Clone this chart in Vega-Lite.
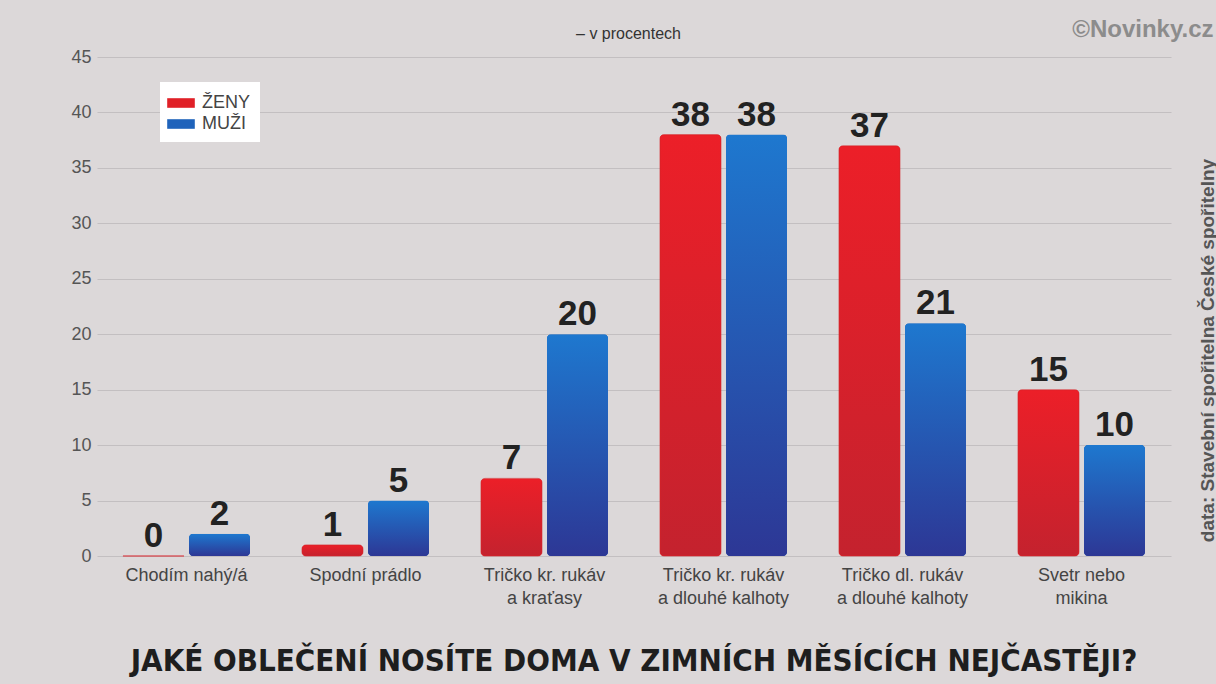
{
  "$schema": "https://vega.github.io/schema/vega-lite/v6.json",
  "width": 1074,
  "height": 499,
  "autosize": {"type": "none"},
  "padding": {"left": 97, "top": 57, "right": 45, "bottom": 128},
  "background": "#dcd8d9",
  "title": {
    "text": "JAKÉ OBLEČENÍ NOSÍTE DOMA V ZIMNÍCH MĚSÍCÍCH NEJČASTĚJI?",
    "orient": "bottom",
    "anchor": "middle",
    "font": "DejaVu Sans Condensed",
    "fontSize": 31,
    "fontWeight": "bold",
    "color": "#1e1e1e",
    "offset": 40
  },
  "data": {
    "values": [
      {"kategorie": "Chodím nahý/á", "pohlavi": "ŽENY", "procenta": 0},
      {"kategorie": "Chodím nahý/á", "pohlavi": "MUŽI", "procenta": 2},
      {"kategorie": "Spodní prádlo", "pohlavi": "ŽENY", "procenta": 1},
      {"kategorie": "Spodní prádlo", "pohlavi": "MUŽI", "procenta": 5},
      {"kategorie": "Tričko kr. rukáv|a kraťasy", "pohlavi": "ŽENY", "procenta": 7},
      {"kategorie": "Tričko kr. rukáv|a kraťasy", "pohlavi": "MUŽI", "procenta": 20},
      {"kategorie": "Tričko kr. rukáv|a dlouhé kalhoty", "pohlavi": "ŽENY", "procenta": 38},
      {"kategorie": "Tričko kr. rukáv|a dlouhé kalhoty", "pohlavi": "MUŽI", "procenta": 38},
      {"kategorie": "Tričko dl. rukáv|a dlouhé kalhoty", "pohlavi": "ŽENY", "procenta": 37},
      {"kategorie": "Tričko dl. rukáv|a dlouhé kalhoty", "pohlavi": "MUŽI", "procenta": 21},
      {"kategorie": "Svetr nebo|mikina", "pohlavi": "ŽENY", "procenta": 15},
      {"kategorie": "Svetr nebo|mikina", "pohlavi": "MUŽI", "procenta": 10}
    ]
  },
  "encoding": {
    "x": {"field": "kategorie", "type": "nominal", "sort": null, "scale": {"paddingInner": 0.29, "paddingOuter": 0.145}},
    "xOffset": {"field": "pohlavi", "type": "nominal", "sort": ["ŽENY", "MUŽI"], "scale": {"paddingInner": 0.076, "paddingOuter": 0}},
    "y": {"field": "procenta", "type": "quantitative", "scale": {"domain": [0, 45], "nice": false}}
  },
  "layer": [
    {
      "mark": {"type": "bar", "cornerRadius": 4},
      "encoding": {
        "x": {
          "field": "kategorie", "type": "nominal", "sort": null,
          "axis": {
            "orient": "bottom", "title": null, "labelAngle": 0, "domain": false, "ticks": false,
            "labelExpr": "split(datum.label, '|')",
            "labelFont": "Liberation Sans", "labelFontSize": 18, "labelColor": "#444444",
            "labelLineHeight": 23, "labelPadding": 10, "labelLimit": 300
          }
        },
        "y": {
          "field": "procenta", "type": "quantitative",
          "axis": {
            "orient": "left", "values": [0, 5, 10, 15, 20, 25, 30, 35, 40, 45],
            "domain": false, "ticks": false, "grid": true, "gridColor": "#c3bfc1", "gridWidth": 1,
            "labelFont": "Liberation Sans", "labelFontSize": 18, "labelColor": "#555555", "labelPadding": 6,
            "title": "– v procentech", "titleAngle": 0, "titleX": 531, "titleY": -24,
            "titleAlign": "center", "titleBaseline": "middle",
            "titleFont": "Liberation Sans", "titleFontSize": 16, "titleFontWeight": "normal", "titleColor": "#333333"
          }
        },
        "color": {
          "field": "pohlavi", "type": "nominal",
          "scale": {"domain": ["ŽENY", "MUŽI"], "range": ["#e02027", "#1f63bb"]},
          "legend": {"title": null}
        }
      }
    },
    {
      "transform": [{"filter": "datum.pohlavi == 'ŽENY'"}],
      "mark": {
        "type": "bar", "cornerRadius": 4, "stroke": "#d8262c", "strokeWidth": 0.6,
        "fill": {"gradient": "linear", "x1": 0, "y1": 0, "x2": 0, "y2": 1,
          "stops": [{"offset": 0, "color": "#ec1f28"}, {"offset": 1, "color": "#c4222e"}]}
      },
      "encoding": {
        "x": {"field": "kategorie", "type": "nominal", "sort": null, "axis": null},
        "y": {"field": "procenta", "type": "quantitative", "axis": null}
      }
    },
    {
      "transform": [{"filter": "datum.pohlavi == 'MUŽI'"}],
      "mark": {
        "type": "bar", "cornerRadius": 4,
        "fill": {"gradient": "linear", "x1": 0, "y1": 0, "x2": 0, "y2": 1,
          "stops": [{"offset": 0, "color": "#1e78cf"}, {"offset": 1, "color": "#2d3795"}]}
      },
      "encoding": {
        "x": {"field": "kategorie", "type": "nominal", "sort": null, "axis": null},
        "y": {"field": "procenta", "type": "quantitative", "axis": null}
      }
    },
    {
      "mark": {"type": "text", "baseline": "alphabetic", "dy": -9, "font": "Liberation Sans", "fontSize": 35, "fontWeight": "bold", "color": "#222222"},
      "encoding": {
        "x": {
          "field": "kategorie", "type": "nominal", "sort": null,
          "axis": {
            "orient": "top", "labels": false, "ticks": false, "domain": false, "grid": false,
            "title": "©Novinky.cz", "titleX": 1116, "titleY": -21, "titleAlign": "right", "titleBaseline": "alphabetic",
            "titleFont": "Liberation Sans", "titleFontSize": 24, "titleFontWeight": "bold", "titleColor": "#8c8c8c"
          }
        },
        "y": {
          "field": "procenta", "type": "quantitative",
          "axis": {
            "orient": "right", "labels": false, "ticks": false, "domain": false, "grid": false,
            "title": "data: Stavební spořitelna České spořitelny", "titleAngle": 270, "titleX": 36, "titleY": 293,
            "titleAlign": "center", "titleBaseline": "middle",
            "titleFont": "Liberation Sans", "titleFontSize": 19, "titleFontWeight": "bold", "titleColor": "#555555"
          }
        },
        "text": {"field": "procenta", "type": "quantitative"}
      }
    }
  ],
  "resolve": {"axis": {"x": "independent", "y": "independent"}},
  "config": {
    "view": {"stroke": null},
    "legend": {
      "orient": "none", "legendX": 63, "legendY": 25, "fillColor": "#ffffff", "padding": 9,
      "symbolType": "M-1.15,-0.4H1.15V0.4H-1.15Z", "symbolSize": 576, "symbolStrokeWidth": 0,
      "labelFont": "Liberation Sans", "labelFontSize": 18, "labelColor": "#444444", "labelOffset": 9, "rowPadding": 0
    }
  }
}
